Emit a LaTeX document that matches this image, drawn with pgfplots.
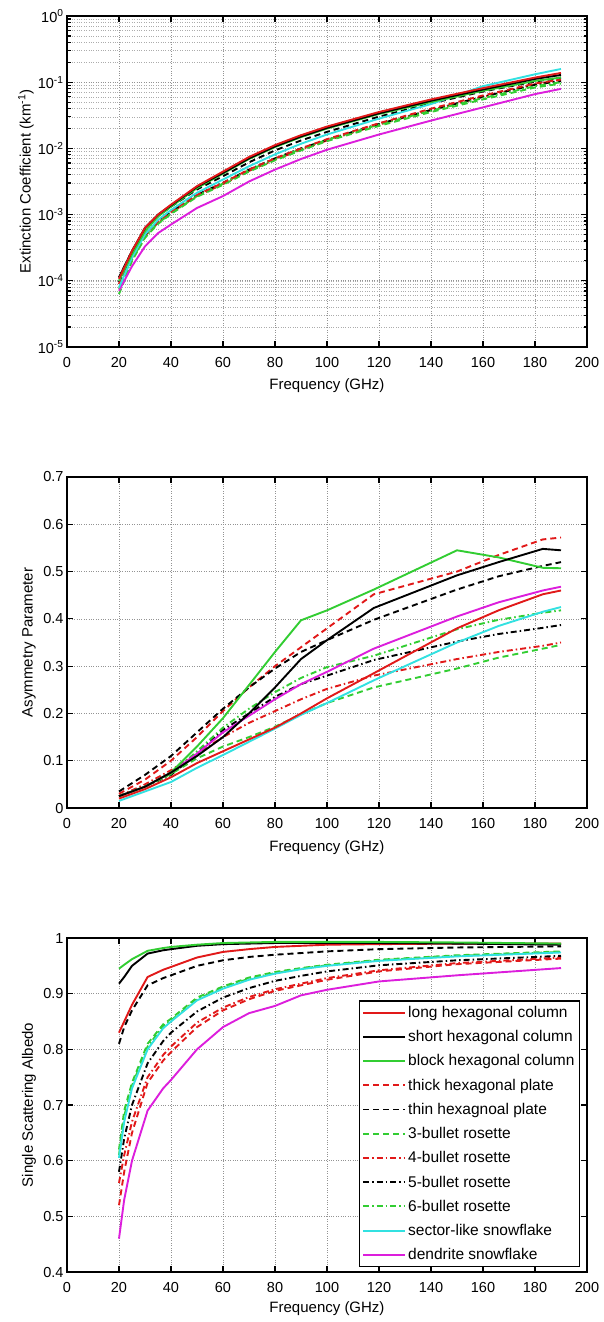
\documentclass[border=0pt]{standalone}
\usepackage{pgfplots}
\usepackage{pgfplotstable}
\pgfplotsset{compat=1.18}
\usepackage{fontspec}
\setmainfont{Liberation Sans}

\definecolor{mred}{RGB}{225,25,25}
\definecolor{mgreen}{RGB}{50,205,50}
\definecolor{mcyan}{RGB}{50,225,225}
\definecolor{mmag}{RGB}{220,30,220}

% Extinction coefficient (km^-1)
\pgfplotstableread{
x    lhc       shc       bhc       thp       tnp       b3        b4        b5        b6        sec       den
20   1.072e-4  1.122e-4  1.000e-4  8.913e-5  1.122e-4  6.310e-5  8.913e-5  9.550e-5  7.586e-5  7.943e-5  7.079e-5
25   2.818e-4  2.818e-4  2.512e-4  2.239e-4  2.818e-4  1.995e-4  2.239e-4  2.399e-4  2.089e-4  2.239e-4  1.660e-4
30   6.310e-4  6.310e-4  5.623e-4  5.012e-4  6.026e-4  4.467e-4  4.786e-4  5.012e-4  4.571e-4  5.012e-4  3.311e-4
35   1.000e-3  1.000e-3  9.333e-4  7.943e-4  9.550e-4  7.244e-4  7.586e-4  7.943e-4  7.413e-4  8.318e-4  5.248e-4
40   1.413e-3  1.380e-3  1.318e-3  1.122e-3  1.318e-3  1.023e-3  1.072e-3  1.122e-3  1.047e-3  1.175e-3  7.079e-4
50   2.692e-3  2.630e-3  2.512e-3  1.995e-3  2.399e-3  1.862e-3  1.905e-3  1.995e-3  1.905e-3  2.138e-3  1.259e-3
60   4.467e-3  4.266e-3  4.169e-3  3.020e-3  3.802e-3  2.818e-3  2.884e-3  3.020e-3  2.951e-3  3.388e-3  1.905e-3
70   7.413e-3  7.079e-3  6.918e-3  4.786e-3  6.166e-3  4.467e-3  4.571e-3  4.786e-3  4.677e-3  5.370e-3  3.162e-3
80   1.122e-2  1.072e-2  1.047e-2  7.079e-3  9.333e-3  6.607e-3  6.761e-3  7.079e-3  6.918e-3  8.128e-3  4.786e-3
90   1.585e-2  1.514e-2  1.479e-2  1.000e-2  1.318e-2  9.333e-3  9.550e-3  1.000e-2  9.772e-3  1.175e-2  6.918e-3
100  2.138e-2  2.042e-2  1.995e-2  1.380e-2  1.778e-2  1.288e-2  1.318e-2  1.349e-2  1.349e-2  1.622e-2  9.550e-3
120  3.548e-2  3.388e-2  3.311e-2  2.399e-2  3.020e-2  2.188e-2  2.291e-2  2.344e-2  2.291e-2  2.818e-2  1.622e-2
140  5.495e-2  5.248e-2  5.012e-2  3.981e-2  4.786e-2  3.548e-2  3.802e-2  3.802e-2  3.715e-2  4.677e-2  2.630e-2
160  8.128e-2  7.762e-2  7.413e-2  6.310e-2  7.244e-2  5.495e-2  6.026e-2  6.026e-2  5.754e-2  8.710e-2  4.169e-2
180  0.1175    0.1122    0.1047    9.550e-2  0.1023    8.318e-2  9.333e-2  9.120e-2  8.710e-2  0.1318    6.607e-2
190  0.1380    0.1288    0.1175    0.1096    0.1175    9.550e-2  0.1096    0.1047    0.1000    0.1585    7.943e-2
}\ext

% Asymmetry parameter
\pgfplotstableread{
x    lhc    shc    bhc    thp    tnp    b3     b4     b5     b6     sec    den
20   0.020  0.025  0.025  0.030  0.035  0.025  0.025  0.025  0.025  0.015  0.025
30   0.040  0.045  0.045  0.060  0.070  0.045  0.050  0.045  0.045  0.035  0.045
40   0.065  0.075  0.075  0.100  0.110  0.072  0.080  0.070  0.072  0.055  0.075
50   0.095  0.110  0.130  0.150  0.160  0.105  0.115  0.115  0.120  0.085  0.115
60   0.120  0.150  0.190  0.205  0.210  0.130  0.150  0.165  0.170  0.112  0.160
70   0.145  0.200  0.260  0.255  0.255  0.150  0.180  0.200  0.210  0.140  0.195
80   0.170  0.255  0.330  0.300  0.295  0.172  0.205  0.235  0.245  0.168  0.230
90   0.200  0.315  0.397  0.340  0.330  0.198  0.230  0.262  0.275  0.197  0.262
100  0.232  0.355  0.418  0.380  0.355  0.222  0.252  0.280  0.298  0.222  0.288
118  0.285  0.423  0.462  0.452  0.398  0.255  0.280  0.313  0.322  0.270  0.337
150  0.380  0.492  0.545  0.500  0.462  0.295  0.315  0.352  0.378  0.350  0.405
166  0.418  0.520  0.530  0.535  0.490  0.318  0.330  0.368  0.398  0.385  0.435
183  0.452  0.548  0.508  0.568  0.512  0.337  0.343  0.381  0.413  0.415  0.460
190  0.460  0.545  0.507  0.572  0.520  0.345  0.350  0.387  0.418  0.425  0.468
}\asy

% Single scattering albedo
\pgfplotstableread{
x    lhc    shc    bhc    thp    tnp    b3     b4     b5     b6     sec    den
20   0.830  0.918  0.945  0.520  0.810  0.620  0.560  0.580  0.610  0.605  0.460
22   0.850  0.930  0.952  0.580  0.840  0.690  0.610  0.640  0.680  0.670  0.530
25   0.880  0.950  0.962  0.650  0.870  0.740  0.670  0.700  0.735  0.730  0.600
31   0.930  0.972  0.977  0.740  0.915  0.810  0.750  0.775  0.805  0.800  0.690
37   0.943  0.978  0.982  0.780  0.928  0.845  0.790  0.815  0.842  0.838  0.730
40   0.948  0.980  0.984  0.795  0.933  0.855  0.805  0.830  0.852  0.850  0.745
50   0.965  0.986  0.988  0.840  0.950  0.893  0.848  0.868  0.890  0.888  0.800
60   0.975  0.989  0.991  0.870  0.960  0.913  0.875  0.893  0.911  0.909  0.840
70   0.980  0.990  0.992  0.890  0.966  0.929  0.894  0.910  0.927  0.925  0.865
80   0.984  0.991  0.993  0.905  0.970  0.939  0.908  0.923  0.937  0.936  0.878
90   0.986  0.991  0.993  0.915  0.973  0.946  0.918  0.932  0.945  0.944  0.897
100  0.988  0.991  0.993  0.925  0.976  0.952  0.928  0.940  0.951  0.950  0.907
120  0.989  0.991  0.993  0.940  0.980  0.961  0.942  0.951  0.960  0.959  0.922
150  0.990  0.990  0.992  0.953  0.983  0.969  0.955  0.960  0.968  0.967  0.933
190  0.990  0.988  0.990  0.963  0.985  0.976  0.965  0.968  0.975  0.974  0.946
}\alb

\pgfplotsset{
  mstyle/.style={
    scale only axis, width=520pt,
    xmin=0, xmax=200, xtick={0,20,...,200},
    /pgf/number format/assume math mode=true,
    axis line style={line width=1.6pt},
    tick align=inside, tick pos=both,
    major tick length=6pt, minor tick length=3.5pt,
    every tick/.style={line width=1.2pt, black},
    xmajorgrids=true, ymajorgrids=true,
    major grid style={dotted, line width=0.7pt, gray!85},
    tick label style={font=\fontsize{14.5}{17}\selectfont},
    label style={font=\fontsize{15}{18}\selectfont},
    xticklabel style={yshift=-7pt},
    xlabel={Frequency (GHz)},
    every axis plot/.append style={line width=1.9pt},
  },
  sdash/.style={dash pattern=on 6pt off 4pt},
  sdot/.style={dash pattern=on 6pt off 3pt on 1.5pt off 3pt},
}

\newcommand{\plotall}[1]{%
  \addplot[mred, sdot]        table[x=x,y=b4]{#1};
  \addplot[black, sdot]       table[x=x,y=b5]{#1};
  \addplot[mgreen, sdot]      table[x=x,y=b6]{#1};
  \addplot[mgreen, sdash]     table[x=x,y=b3]{#1};
  \addplot[mred, sdash]       table[x=x,y=thp]{#1};
  \addplot[black, sdash]      table[x=x,y=tnp]{#1};
  \addplot[mmag]              table[x=x,y=den]{#1};
  \addplot[mcyan]             table[x=x,y=sec]{#1};
  \addplot[mgreen]            table[x=x,y=bhc]{#1};
  \addplot[black]             table[x=x,y=shc]{#1};
  \addplot[mred]              table[x=x,y=lhc]{#1};
}

\begin{document}
\begin{tikzpicture}[font=\fontsize{14}{17}\selectfont]
\useasboundingbox (0pt,0pt) rectangle (604pt,-1322pt);

% ---------- Panel 1 ----------
\begin{axis}[mstyle,
  at={(67pt,-347pt)}, anchor=south west, height=331pt,
  ymode=log, ymin=1e-5, ymax=1,
  ytick={1e-5,1e-4,1e-3,1e-2,1e-1,1},
  yticklabels={10\textsuperscript{-5},10\textsuperscript{-4},10\textsuperscript{-3},10\textsuperscript{-2},10\textsuperscript{-1},10\textsuperscript{0}},
  yminorgrids=true,
  minor grid style={dotted, line width=0.6pt, gray!65},
  xlabel style={at={(axis description cs:0.5,0)}, anchor=center, yshift=-39pt},
  ylabel={Extinction Coefficient (km\textsuperscript{-1})},
  ylabel style={at={(axis description cs:-0.079,0.5)}, anchor=center},
]
\plotall{\ext}
\end{axis}

% ---------- Panel 2 ----------
\begin{axis}[mstyle,
  at={(67pt,-808pt)}, anchor=south west, height=331pt,
  ymin=0, ymax=0.7, ytick={0,0.1,...,0.7},
  yticklabel style={/pgf/number format/fixed},
  xlabel style={at={(axis description cs:0.5,0)}, anchor=center, yshift=-40pt},
  ylabel={Asymmetry Parameter},
  ylabel style={at={(axis description cs:-0.073,0.5)}, anchor=center},
]
\plotall{\asy}
\end{axis}

% ---------- Panel 3 ----------
\begin{axis}[mstyle,
  at={(67pt,-1272pt)}, anchor=south west, height=334pt,
  ymin=0.4, ymax=1, ytick={0.4,0.5,...,1.0},
  yticklabel style={/pgf/number format/fixed},
  xlabel style={at={(axis description cs:0.5,0)}, anchor=center, yshift=-37pt},
  ylabel={Single Scattering Albedo},
  ylabel style={at={(axis description cs:-0.073,0.5)}, anchor=center},
  legend cell align=left,
  legend style={at={(0.987,0.015)}, anchor=south east, draw=black,
    line width=1.5pt, fill=white, row sep=7.5pt, inner sep=3pt,
    font={\fontsize{15.5}{15}\selectfont\strut}},
  legend image code/.code={\draw[#1] (0pt,0pt) -- (42pt,0pt);},
]
\addplot[mred]              table[x=x,y=lhc]{\alb};
\addlegendentry{long hexagonal column}
\addplot[black]             table[x=x,y=shc]{\alb};
\addlegendentry{short hexagonal column}
\addplot[mgreen]            table[x=x,y=bhc]{\alb};
\addlegendentry{block hexagonal column}
\addplot[mred, sdash]       table[x=x,y=thp]{\alb};
\addlegendentry{thick hexagonal plate}
\addplot[black, sdash]      table[x=x,y=tnp]{\alb};
\addlegendentry{thin hexagnoal plate}
\addplot[mgreen, sdash]     table[x=x,y=b3]{\alb};
\addlegendentry{3-bullet rosette}
\addplot[mred, sdot]        table[x=x,y=b4]{\alb};
\addlegendentry{4-bullet rosette}
\addplot[black, sdot]       table[x=x,y=b5]{\alb};
\addlegendentry{5-bullet rosette}
\addplot[mgreen, sdot]      table[x=x,y=b6]{\alb};
\addlegendentry{6-bullet rosette}
\addplot[mcyan]             table[x=x,y=sec]{\alb};
\addlegendentry{sector-like snowflake}
\addplot[mmag]              table[x=x,y=den]{\alb};
\addlegendentry{dendrite snowflake}
\end{axis}
\end{tikzpicture}
\end{document}
